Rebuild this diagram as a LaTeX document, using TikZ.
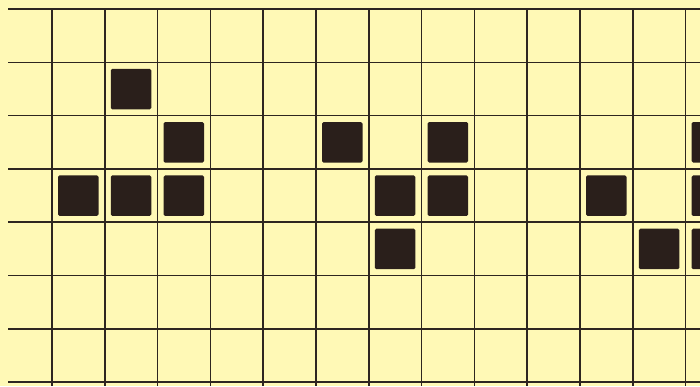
\documentclass[tikz,border=0pt]{standalone}
\usepackage{xcolor}
\usepackage{tikz}
\definecolor{paperyellow}{HTML}{FFF9B6}
\definecolor{inkline}{HTML}{2E2620}
\definecolor{inkcell}{HTML}{2A1F1B}

\tikzset{
  gridline/.style={draw=inkline, line width=1.6pt},
  livecell/.style={fill=inkcell, rounded corners=1.5pt},
}

\begin{document}
\begin{tikzpicture}[x=1pt, y=-1pt]
  \useasboundingbox (0,0) rectangle (700,386);
  \clip (0,0) rectangle (700,386);
  \fill[paperyellow] (0,0) rectangle (700,386);
  % grid
  \foreach \k in {0,...,12}
    \draw[gridline] ({52+52.8*\k},9) -- ({52+52.8*\k},386);
  \foreach \k in {0,...,7}
    \draw[gridline] (8,{9+53.3*\k}) -- (700,{9+53.3*\k});
  % live cells (column, row)
  \foreach \c/\r in {2/1, 3/2, 1/3, 2/3, 3/3,
                     6/2, 8/2, 7/3, 8/3, 7/4,
                     11/3, 12/4, 13/2, 13/3, 13/4}
    \fill[livecell] ({52.8*(\c-1)+52+6},{9+53.3*\r+6.5}) rectangle ++(40.5,40.5);
\end{tikzpicture}
\end{document}
